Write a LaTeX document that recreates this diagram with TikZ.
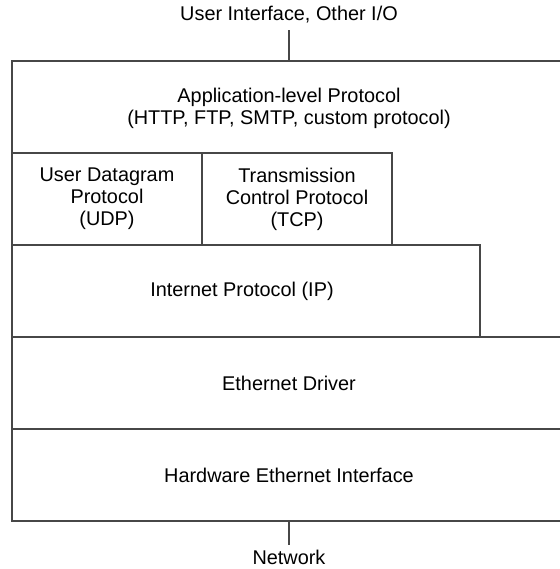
\documentclass[tikz,border=0pt]{standalone}
\usepackage{fontspec}
\setmainfont{Liberation Sans}
\usepackage{tikz}
\usetikzlibrary{positioning, calc}

\begin{document}
\begin{tikzpicture}[x=0.75pt, y=-0.75pt,
  frame/.style={line width=1.1pt, draw=black!72},
  lbl/.style={align=center, font=\fontsize{14.9}{16.6}\selectfont, inner sep=2pt}]
\useasboundingbox (0,0) rectangle (560,569);
% corners
\coordinate (TL) at (12,61);
\coordinate (TR) at (566,61);
\coordinate (BL) at (12,521);
\coordinate (BR) at (566,521);
\coordinate (UL) at (12,153);
\coordinate (UM) at (202,153);
\coordinate (UR) at (392,153);
\coordinate (IL) at (12,245);
\coordinate (IR) at (480,245);
\coordinate (EL) at (12,337);
\coordinate (ER) at (566,337);
\coordinate (HL) at (12,429);
\coordinate (HR) at (566,429);
% outline
\draw[frame] (TR) -- (TL) -- (BL) -- (BR);
\draw[frame] (UL) -- (UR) -- (UR |- IL);
\draw[frame] (UM) -- (UM |- IL);
\draw[frame] (IL) -- (IR) -- (IR |- EL);
\draw[frame] (EL) -- (ER);
\draw[frame] (HL) -- (HR);
% labels
\node[lbl] (ui) at (289,15) {User Interface, Other I/O};
\node[lbl] (app) at (289,108) {Application-level Protocol\\(HTTP, FTP, SMTP, custom protocol)};
\node[lbl] (udp) at (107,199) {User Datagram\\Protocol\\(UDP)};
\node[lbl] (tcp) at (297,199) {Transmission\\Control Protocol\\(TCP)};
\node[lbl] (ip) at (242,291) {Internet Protocol (IP)};
\node[lbl] (eth) at (289,383) {Ethernet Driver};
\node[lbl] (hw) at (289,475) {Hardware Ethernet Interface};
\node[lbl] (net) at (289,557) {Network};
% links
\draw[frame] ($(ui.south)+(0,4)$) -- (ui.south |- TL);
\draw[frame] (net.north |- BL) -- ($(net.north)+(0,-2)$);
\end{tikzpicture}
\end{document}
